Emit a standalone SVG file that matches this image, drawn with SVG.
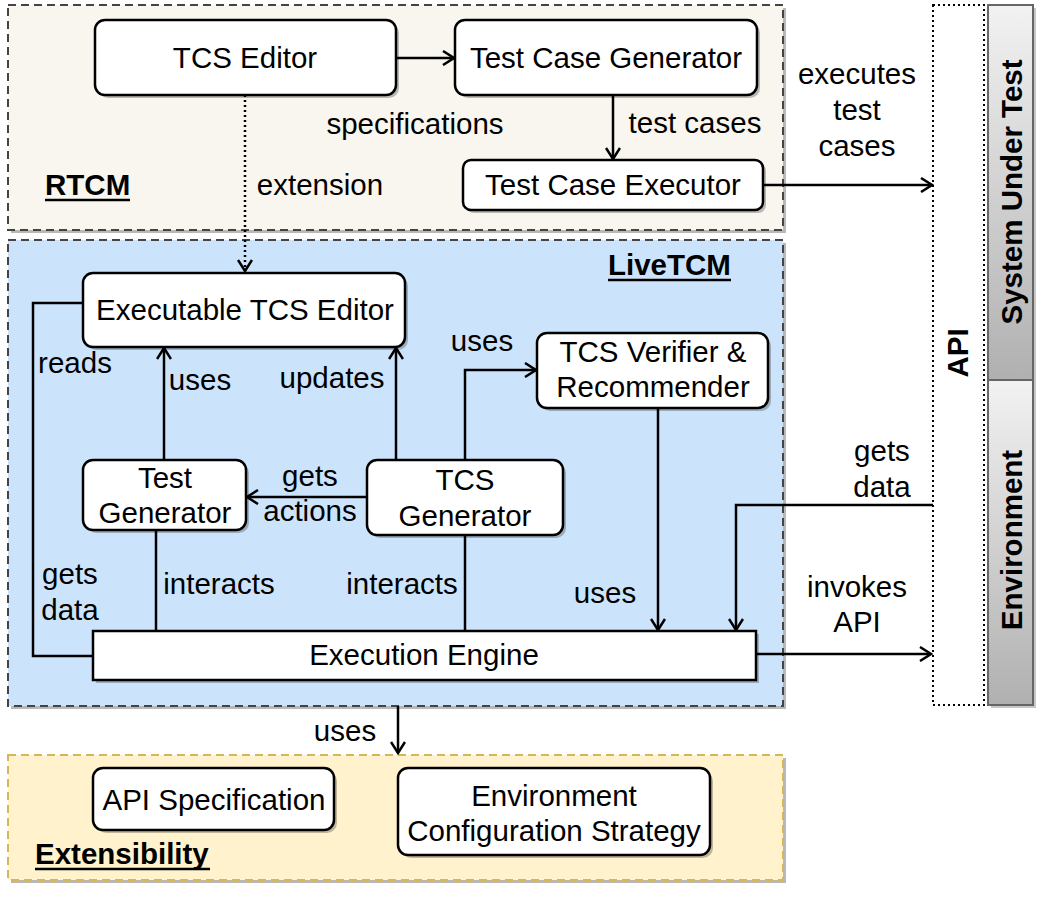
<svg xmlns="http://www.w3.org/2000/svg" width="1045" height="897" viewBox="0 0 1045 897">
<style>
text{font-family:"Liberation Sans",Arial,sans-serif;font-size:29.5px;fill:#000}
.c{text-anchor:middle}
.b{font-weight:bold}
.box{fill:#fff;stroke:#000;stroke-width:2.5}
.sh{fill:#000;fill-opacity:0.25}
.csh{fill:#000;fill-opacity:0.28}
.cont{stroke:#444;stroke-width:2;stroke-dasharray:8 5}
.ln{fill:none;stroke:#000;stroke-width:2.5}
.ul{stroke:#000;stroke-width:2.5}
</style>
<defs>
<marker id="ah" markerWidth="14" markerHeight="16" refX="12" refY="8" orient="auto" markerUnits="userSpaceOnUse">
<path d="M1,1 L12,8 L1,15" fill="none" stroke="#000" stroke-width="2.5"/>
</marker>
<linearGradient id="gr" x1="0" y1="0" x2="0" y2="1">
<stop offset="0" stop-color="#f2f2f2"/>
<stop offset="1" stop-color="#b0b0b0"/>
</linearGradient>
</defs>

<!-- containers -->
<g id="rtcm">
<rect class="csh" x="11" y="8" width="775" height="225"/>
<rect class="cont" x="8" y="5" width="775" height="225" fill="#f8f6ee"/>
<text class="b" x="45" y="195">RTCM</text>
<line class="ul" x1="45" y1="200" x2="130" y2="200"/>
</g>
<g id="livetcm">
<rect class="csh" x="11" y="243" width="775" height="466"/>
<rect class="cont" x="8" y="240" width="775" height="466" fill="#cce4fb"/>
<text class="b" x="608" y="275">LiveTCM</text>
<line class="ul" x1="608" y1="280" x2="731" y2="280"/>
</g>
<g id="extensibility">
<rect class="csh" x="11" y="758" width="775" height="125"/>
<rect x="8" y="755" width="775" height="125" fill="#fff2cc" stroke="#d6b656" stroke-width="2" stroke-dasharray="8 5"/>
<text class="b" x="35" y="864">Extensibility</text>
<line class="ul" x1="35" y1="869" x2="210" y2="869"/>
</g>

<!-- right side -->
<g id="api">
<rect x="933" y="5" width="51" height="700" fill="#fff" stroke="#000" stroke-width="2" stroke-dasharray="2 3"/>
<text class="b c" transform="translate(968,353) rotate(-90)">API</text>
</g>
<g id="sut">
<rect x="991" y="8" width="45" height="375" fill="#000" fill-opacity="0.22"/>
<rect x="988" y="5" width="45" height="375" fill="url(#gr)" stroke="#666" stroke-width="2"/>
<text class="b c" transform="translate(1022,192) rotate(-90)">System Under Test</text>
</g>
<g id="environment">
<rect x="991" y="383" width="45" height="325" fill="#000" fill-opacity="0.22"/>
<rect x="988" y="380" width="45" height="325" fill="url(#gr)" stroke="#666" stroke-width="2"/>
<text class="b c" transform="translate(1022,540) rotate(-90)">Environment</text>
</g>

<!-- nodes -->
<g id="tcs-editor">
<rect class="sh" x="98" y="23" width="301" height="75" rx="10"/>
<rect class="box" x="95" y="20" width="301" height="75" rx="10"/>
<text class="c" x="245" y="68">TCS Editor</text>
</g>
<g id="test-case-generator">
<rect class="sh" x="458" y="23" width="302" height="75" rx="10"/>
<rect class="box" x="455" y="20" width="302" height="75" rx="10"/>
<text class="c" x="606" y="68">Test Case Generator</text>
</g>
<g id="test-case-executor">
<rect class="sh" x="466" y="163" width="300" height="50" rx="8"/>
<rect class="box" x="463" y="160" width="300" height="50" rx="8"/>
<text class="c" x="613" y="195">Test Case Executor</text>
</g>
<g id="executable-tcs-editor">
<rect class="sh" x="86" y="276" width="322" height="74" rx="10"/>
<rect class="box" x="83" y="273" width="322" height="74" rx="10"/>
<text class="c" x="245" y="320">Executable TCS Editor</text>
</g>
<g id="tcs-verifier">
<rect class="sh" x="540" y="336" width="231" height="75" rx="10"/>
<rect class="box" x="537" y="333" width="231" height="75" rx="10"/>
<text class="c" x="653" y="362">TCS Verifier &amp;</text>
<text class="c" x="653" y="397">Recommender</text>
</g>
<g id="test-generator">
<rect class="sh" x="86" y="463" width="163" height="70" rx="10"/>
<rect class="box" x="83" y="460" width="163" height="70" rx="10"/>
<text class="c" x="165" y="488">Test</text>
<text class="c" x="165" y="523">Generator</text>
</g>
<g id="tcs-generator">
<rect class="sh" x="370" y="463" width="196" height="75" rx="10"/>
<rect class="box" x="367" y="460" width="196" height="75" rx="10"/>
<text class="c" x="465" y="490">TCS</text>
<text class="c" x="465" y="526">Generator</text>
</g>
<g id="execution-engine">
<rect class="sh" x="96" y="634" width="663" height="49"/>
<rect class="box" x="93" y="631" width="663" height="49"/>
<text class="c" x="424" y="665">Execution Engine</text>
</g>
<g id="api-specification">
<rect class="sh" x="96" y="771" width="241" height="62" rx="10"/>
<rect class="box" x="93" y="768" width="241" height="62" rx="10"/>
<text class="c" x="214" y="810">API Specification</text>
</g>
<g id="env-config-strategy">
<rect class="sh" x="401" y="771" width="312" height="87" rx="10"/>
<rect class="box" x="398" y="768" width="312" height="87" rx="10"/>
<text class="c" x="554" y="806">Environment</text>
<text class="c" x="554" y="841">Configuration Strategy</text>
</g>

<!-- connectors -->
<g id="connectors">
<path class="ln" d="M396,58 H454" marker-end="url(#ah)"/>
<text class="c" x="415" y="134">specifications</text>
<path class="ln" d="M613,95 V159" marker-end="url(#ah)"/>
<text class="c" x="695" y="133">test cases</text>
<path class="ln" d="M245,95 V271" stroke-dasharray="2 3" marker-end="url(#ah)"/>
<text class="c" x="320" y="195">extension</text>
<path class="ln" d="M763,185 H932" marker-end="url(#ah)"/>
<text class="c" x="857" y="84">executes</text>
<text class="c" x="857" y="120">test</text>
<text class="c" x="857" y="156">cases</text>
<path class="ln" d="M83,303 H33 V656 H93"/>
<text class="c" x="75" y="373">reads</text>
<text class="c" x="70" y="584">gets</text>
<text class="c" x="70" y="620">data</text>
<path class="ln" d="M164,460 V348" marker-end="url(#ah)"/>
<text class="c" x="200" y="390">uses</text>
<path class="ln" d="M396,460 V348" marker-end="url(#ah)"/>
<text class="c" x="332" y="388">updates</text>
<path class="ln" d="M465,460 V370 H536" marker-end="url(#ah)"/>
<text class="c" x="482" y="351">uses</text>
<path class="ln" d="M367,497 H247" marker-end="url(#ah)"/>
<text class="c" x="310" y="486">gets</text>
<text class="c" x="310" y="521">actions</text>
<path class="ln" d="M658,408 V630" marker-end="url(#ah)"/>
<text class="c" x="605" y="603">uses</text>
<path class="ln" d="M156,530 V631"/>
<text class="c" x="219" y="594">interacts</text>
<path class="ln" d="M465,535 V631"/>
<text class="c" x="402" y="594">interacts</text>
<path class="ln" d="M756,654 H931" marker-end="url(#ah)"/>
<text class="c" x="857" y="597">invokes</text>
<text class="c" x="857" y="632">API</text>
<path class="ln" d="M933,505 H736 V630" marker-end="url(#ah)"/>
<text class="c" x="882" y="461">gets</text>
<text class="c" x="882" y="497">data</text>
<path class="ln" d="M398,706 V753" marker-end="url(#ah)"/>
<text class="c" x="345" y="741">uses</text>
</g>
</svg>
